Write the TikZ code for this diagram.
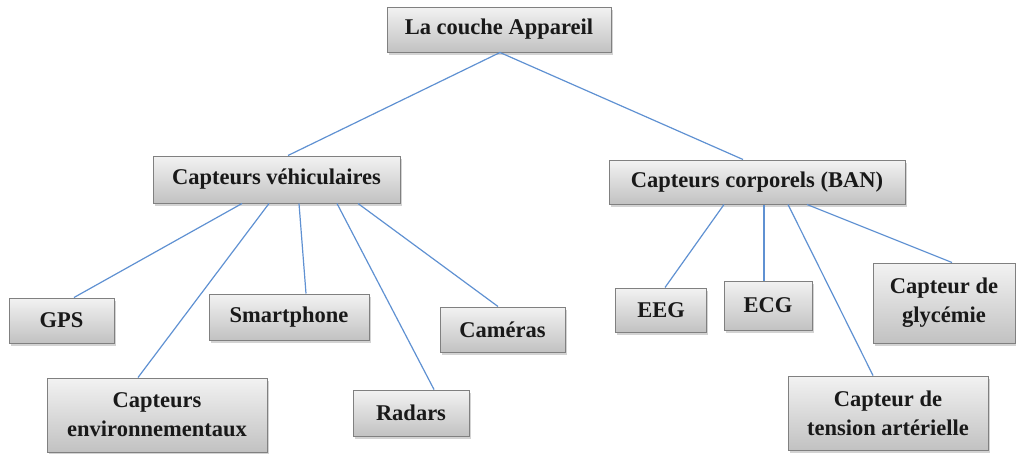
\documentclass[tikz,border=0pt]{standalone}
\usepackage{fontspec}
\setmainfont{Liberation Serif}
\usetikzlibrary{shadows}
\tikzset{
  box/.style={draw=black!50, line width=1pt, top color=black!5, bottom color=black!24,
    drop shadow={opacity=0.35, shadow xshift=1.5pt, shadow yshift=-2.5pt},
    font=\fontsize{22.5}{29}\selectfont\bfseries, text=black!90, align=center, inner sep=0pt},
  link/.style={line width=1.2pt, color={rgb,255:red,95;green,145;blue,210}},
}
\begin{document}
\begin{tikzpicture}[x=1pt,y=-1pt]
\useasboundingbox (0,0) rectangle (1016,453);
\node[box, minimum width=224pt, minimum height=45pt] (root) at (499,29.5) {La couche Appareil};
\node[box, minimum width=247pt, minimum height=47pt] (veh) at (276.5,179.5) {Capteurs véhiculaires};
\node[box, minimum width=296pt, minimum height=44pt] (corp) at (757,182) {Capteurs corporels (BAN)};
\node[box, minimum width=105pt, minimum height=45pt] (gps) at (61.5,320.5) {GPS};
\node[box, minimum width=220pt, minimum height=74pt] (env) at (157,415) {Capteurs\\environnementaux};
\node[box, minimum width=160pt, minimum height=46pt] (smart) at (289,317) {Smartphone};
\node[box, minimum width=116pt, minimum height=46pt] (radar) at (411,413) {Radars};
\node[box, minimum width=125pt, minimum height=45pt] (cam) at (502.5,329.5) {Caméras};
\node[box, minimum width=91pt, minimum height=44pt] (eeg) at (661,310) {EEG};
\node[box, minimum width=88pt, minimum height=49pt] (ecg) at (768,305.5) {ECG};
\node[box, minimum width=142pt, minimum height=80pt] (gly) at (944,303) {Capteur de\\glycémie};
\node[box, minimum width=200pt, minimum height=74pt] (tens) at (888,413) {Capteur de\\tension artérielle};
\draw[link] ([xshift=1pt]root.south) -- ([xshift=11.5pt]veh.north);
\draw[link] ([xshift=1pt]root.south) -- ([xshift=-14pt]corp.north);
\draw[link] ([xshift=-34.5pt]veh.south) -- ([xshift=12.5pt]gps.north);
\draw[link] ([xshift=-7.5pt]veh.south) -- ([xshift=-19pt]env.north);
\draw[link] ([xshift=22.5pt]veh.south) -- ([xshift=17pt]smart.north);
\draw[link] ([xshift=60.5pt]veh.south) -- ([xshift=23pt]radar.north);
\draw[link] ([xshift=81.5pt]veh.south) -- ([xshift=-4.5pt]cam.north);
\draw[link] ([xshift=-33pt]corp.south) -- ([xshift=4pt]eeg.north);
\draw[link] ([xshift=7pt]corp.south) -- ([xshift=-4pt]ecg.north);
\draw[link] ([xshift=31pt]corp.south) -- ([xshift=-15pt]tens.north);
\draw[link] ([xshift=50pt]corp.south) -- ([xshift=8pt]gly.north);
\end{tikzpicture}
\end{document}
